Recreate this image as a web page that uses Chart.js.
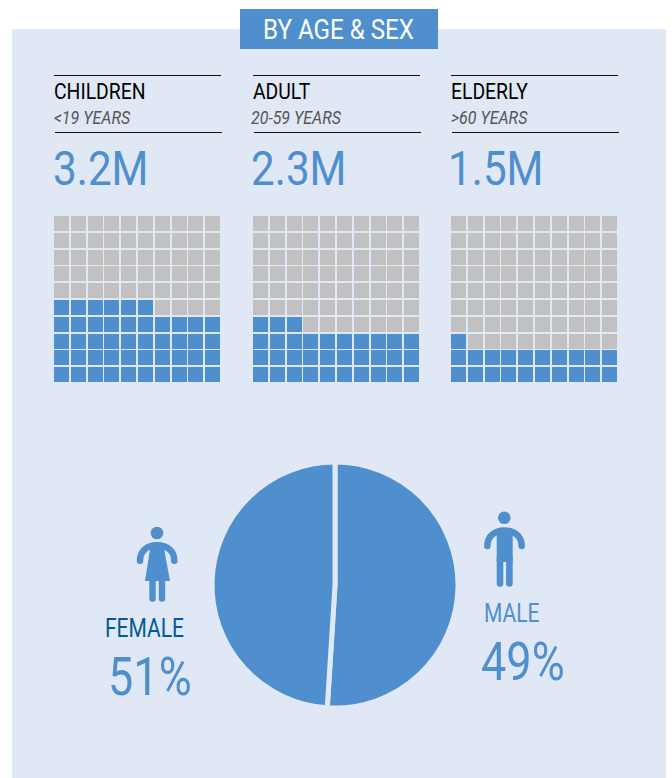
<!DOCTYPE html>
<html>
<head>
<meta charset="utf-8">
<script src="https://cdn.jsdelivr.net/npm/chart.js@4"></script>
<style>
  html, body { margin: 0; padding: 0; background: #fff; }
  #page { position: relative; width: 672px; height: 778px; overflow: hidden; font-family: Roboto, sans-serif; }
  #panel { position: absolute; left: 12px; top: 29px; width: 654px; height: 749px; background: #e0e8f5; }
  #tab { position: absolute; left: 240px; top: 9px; width: 198px; height: 40px; background: #4f8fce; }
  .t { position: absolute; white-space: nowrap; transform: scaleX(0.84); transform-origin: left top; line-height: 1; }
  .rule { position: absolute; width: 167px; height: 1px; background: #111; }
  canvas { position: absolute; }
  svg { position: absolute; }
</style>
</head>
<body>
<div id="page">
  <div id="panel"></div>
  <div id="tab"></div>
  <div class="t" style="left:263px;top:16px;font-size:28px;color:#fff;transform:scaleX(0.863)">BY AGE &amp; SEX</div>

  <svg style="left:135px;top:525px" width="44" height="80" viewBox="0 0 44 80">
    <circle cx="22" cy="8" r="6.3" fill="#4f8fce"/>
    <path d="M5 35.7 C5 26 12 20.2 22 20.2 C32 20.2 39.3 26 39.3 35.7" fill="none" stroke="#4f8fce" stroke-width="6.5" stroke-linecap="round"/>
    <path d="M16 18 L28 18 L35 56 L10 56 Z" fill="#4f8fce"/>
    <path d="M17.5 55 V73.5 M27 55 V73.5" stroke="#4f8fce" stroke-width="6.4" stroke-linecap="round"/>
  </svg>
  <svg style="left:483px;top:510px" width="44" height="80" viewBox="0 0 44 80">
    <circle cx="21.3" cy="7.7" r="6.3" fill="#4f8fce"/>
    <path d="M4.3 36 C4.3 26 12 20.5 21.5 20.5 C31 20.5 38.7 26 38.7 36" fill="none" stroke="#4f8fce" stroke-width="6.5" stroke-linecap="round"/>
    <path d="M13.7 19 H29.7 V52 H13.7 Z" fill="#4f8fce"/>
    <path d="M17 48 V73.4 M26.4 48 V73.4" stroke="#4f8fce" stroke-width="6.6" stroke-linecap="round"/>
  </svg>

  <div class="t" style="left:105px;top:616px;font-size:25px;color:#005b97">FEMALE</div>
  <div class="t" style="left:108px;top:651px;font-size:53px;color:#4f8fce;transform:scaleX(0.85)">51%</div>
  <div class="t" style="left:484px;top:601px;font-size:25px;color:#4f8fce">MALE</div>
  <div class="t" style="left:481px;top:636px;font-size:53px;color:#4f8fce;transform:scaleX(0.85)">49%</div>

  <canvas id="pie" style="left:205px;top:455px;width:260px;height:260px"></canvas>
</div>

<script>
  const categories = ["CHILDREN", "ADULT", "ELDERLY"];
  const ageRanges = ["<19 YEARS", "20-59 YEARS", ">60 YEARS"];
  const totals = ["3.2M", "2.3M", "1.5M"];
  const filledCells = [46, 33, 21];
  const sexLabels = ["FEMALE", "MALE"];
  const sexShares = [51, 49];

  const BLUE = "#4f8fce";
  const GREY = "#c0c1c0";
  const PANEL = "#e0e8f5";
  const GRID = 10;
  const columnLeft = [53, 252, 450];
  const totalLeft = [53, 251, 448];

  // keeps the squares on whole pixels, like the reference
  class SnapScale extends Chart.LinearScale {
    getPixelForValue(v) {
      return Math.floor(super.getPixelForValue(v)) + 0.5;
    }
  }
  SnapScale.id = "snap";
  SnapScale.defaults = Chart.LinearScale.defaults;
  Chart.register(SnapScale);

  const page = document.getElementById("page");

  function addText(left, top, size, color, text, extra) {
    const el = document.createElement("div");
    el.className = "t";
    el.style.cssText = `left:${left}px;top:${top}px;font-size:${size}px;color:${color};${extra || ""}`;
    el.textContent = text;
    page.appendChild(el);
  }

  function addRule(left, top) {
    const el = document.createElement("div");
    el.className = "rule";
    el.style.left = left + "px";
    el.style.top = top + "px";
    page.appendChild(el);
  }

  function waffle(left, filled) {
    const canvas = document.createElement("canvas");
    canvas.style.cssText = `left:${left}px;top:215px;width:168px;height:168px`;
    page.appendChild(canvas);

    const on = [], off = [];
    for (let i = 0; i < GRID * GRID; i++) {
      const cell = { x: i % GRID, y: Math.floor(i / GRID) };
      (i < filled ? on : off).push(cell);
    }

    new Chart(canvas, {
      type: "scatter",
      data: {
        datasets: [
          { data: on, backgroundColor: BLUE },
          { data: off, backgroundColor: GREY },
        ],
      },
      options: {
        responsive: false,
        animation: false,
        layout: { padding: 0, autoPadding: false },
        elements: {
          point: { pointStyle: "rect", radius: 15 / Math.SQRT2, borderWidth: 0 },
        },
        plugins: { legend: { display: false }, tooltip: { enabled: false } },
        scales: {
          x: { type: "snap", min: -0.5, max: GRID - 0.5, display: false },
          y: { type: "snap", min: -0.5, max: GRID - 0.5, display: false },
        },
      },
    });
  }

  categories.forEach((name, i) => {
    const left = columnLeft[i];
    addRule(left + 1, 75);
    addRule(left + 2, 132);
    addText(left + 1, 80, 22.5, "#000", name, "transform:scaleX(0.86)");
    addText(left + (i === 1 ? -1 : 1), 108, 19, "#555", ageRanges[i], "font-style:italic");
    addText(totalLeft[i], 145, 48, BLUE, totals[i], "transform:scaleX(0.88)");
    waffle(left, filledCells[i]);
  });

  new Chart(document.getElementById("pie"), {
    type: "pie",
    data: {
      labels: sexLabels,
      datasets: [{
        data: sexShares,
        backgroundColor: BLUE,
        borderColor: PANEL,
        borderWidth: 5,
      }],
    },
    options: {
      responsive: false,
      animation: false,
      radius: 123,
      layout: { padding: 0 },
      plugins: { legend: { display: false }, tooltip: { enabled: false } },
    },
  });
</script>
</body>
</html>
